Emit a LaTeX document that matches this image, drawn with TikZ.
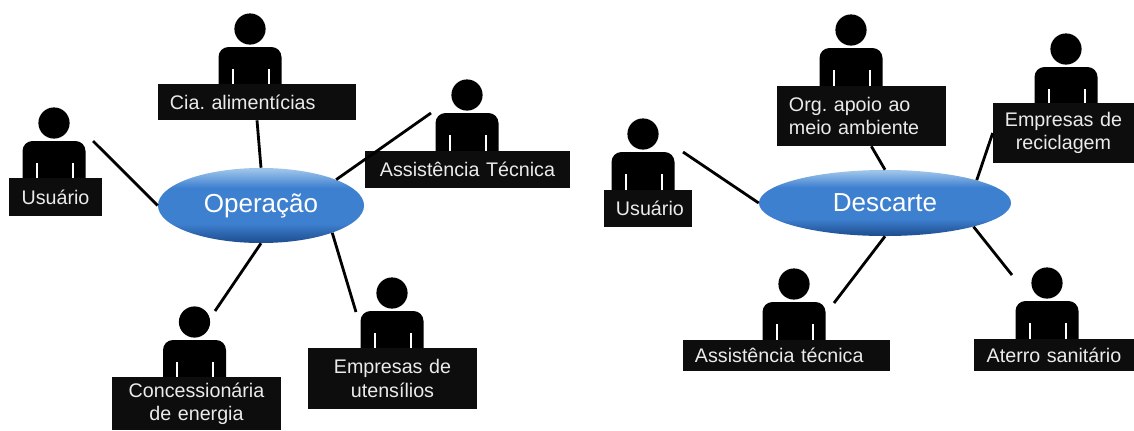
\documentclass[tikz,border=0pt]{standalone}
\usepackage{fontspec}
\setmainfont{Liberation Sans}
\usetikzlibrary{shapes.geometric,calc}

\definecolor{boxblack}{HTML}{0D0D0D}
\definecolor{blobtop}{HTML}{9CC3EA}
\definecolor{blobmid}{HTML}{3E80D0}
\definecolor{blobbot}{HTML}{1F5092}
\pgfdeclareverticalshading{blobshade}{100bp}{color(0bp)=(blobbot); color(26bp)=(blobbot); color(38bp)=(blobmid); color(62bp)=(blobmid); color(74bp)=(blobtop); color(100bp)=(blobtop)}

\tikzset{
  labelbox/.style={fill=boxblack, text=white!92!black, inner ysep=0pt, inner xsep=0.3cm, align=left,
    font=\fontsize{14}{16.6}\selectfont\frenchspacing},
  blob/.style={ellipse, inner sep=0pt, shade, shading=blobshade,
    text=white, font=\fontsize{18.5}{22}\selectfont},
  link/.style={line width=2pt, black}
}

% one figure, given by the centre of its head
\newcommand{\person}[2]{
  \fill [black] (#1,#2) circle (0.39cm);
  \fill [black] ($(#1,#2)+(-31.5,58)$) [rounded corners=0.25cm] -- ($(#1,#2)+(-31.5,18)$) -- ($(#1,#2)+(31.5,18)$) [sharp corners] -- ($(#1,#2)+(31.5,58)$) -- cycle;
  \fill [white] ($(#1,#2)+(-18.5,40)$) rectangle ($(#1,#2)+(-16.5,58)$);
  \fill [white] ($(#1,#2)+(17.5,40)$) rectangle ($(#1,#2)+(19.5,58)$);
}

\begin{document}
\begin{tikzpicture}[x=0.025cm, y=-0.025cm]
\useasboundingbox (0,0) rectangle (1134,430);

% left group
\person{54}{123}
\person{250}{29}
\person{467}{95}
\person{194.5}{322}
\person{392}{293}

\node [labelbox, text width=1.725cm, minimum height=0.95cm, align=center] (usuarioA) at (55.5,197){Usuário};
\node [labelbox, text width=4.35cm, minimum height=0.9cm] (cia) at (257,102){Cia. alimentícias};
\node [labelbox, text width=4.525cm, minimum height=0.925cm, align=center] (assistA) at (467.5,169.5){Assistência Técnica};
\node [labelbox, text width=3.625cm, minimum height=1.325cm, align=center] (conc) at (196.5,403.5){Concessionária\\de energia};
\node [labelbox, text width=3.625cm, minimum height=1.525cm, align=center] (utens) at (392.5,378.5){Empresas de\\utensílios};

\node [blob, minimum width=5.15cm, minimum height=1.875cm] (oper) at (261,205.5){Operação};

\coordinate (endUsuarioA) at (93,141);
\coordinate (endAssistA) at (431,113);
\coordinate (endConc) at (215,311);
\coordinate (endUtens) at (356,312);

\draw [link] (endUsuarioA) -- (oper.180);
\draw [link] (cia.south) -- (oper.90);
\draw [link] (endAssistA) -- (oper.19);
\draw [link] (endConc) -- (oper.270);
\draw [link] (endUtens) -- (oper.339);

% right group
\person{643}{134}
\person{851}{30}
\person{1066}{49}
\person{794}{284}
\person{1047}{283}

\node [labelbox, text width=1.6cm, minimum height=0.925cm, align=center] (usuarioB) at (648,208.5){Usuário};
\node [labelbox, text width=3.625cm, minimum height=1.5cm] (orgapoio) at (861.5,116){Org. apoio ao\\meio ambiente};
\node [labelbox, inner xsep=0pt, text width=3.525cm, minimum height=1.5cm, align=center] (recicl) at (1063.5,133){Empresas de\\reciclagem};
\node [labelbox, text width=4.575cm, minimum height=0.775cm] (assistB) at (786.5,355.5){Assistência técnica};
\node [labelbox, text width=3.4cm, minimum height=0.8cm, align=center] (aterro) at (1054,355){Aterro sanitário};

\node [blob, minimum width=6.3cm, minimum height=1.65cm] (desc) at (885,203){Descarte};

\coordinate (endUsuarioB) at (683,152);
\coordinate (endAssistB) at (834,303);
\coordinate (endAterro) at (1012,275);

\draw [link] (endUsuarioB) -- (desc.180);
\draw [link] (orgapoio.288) -- (desc.90);
\draw [link] (recicl.west) -- (desc.14);
\draw [link] (endAssistB) -- (desc.270);
\draw [link] (endAterro) -- (desc.345);
\end{tikzpicture}
\end{document}
